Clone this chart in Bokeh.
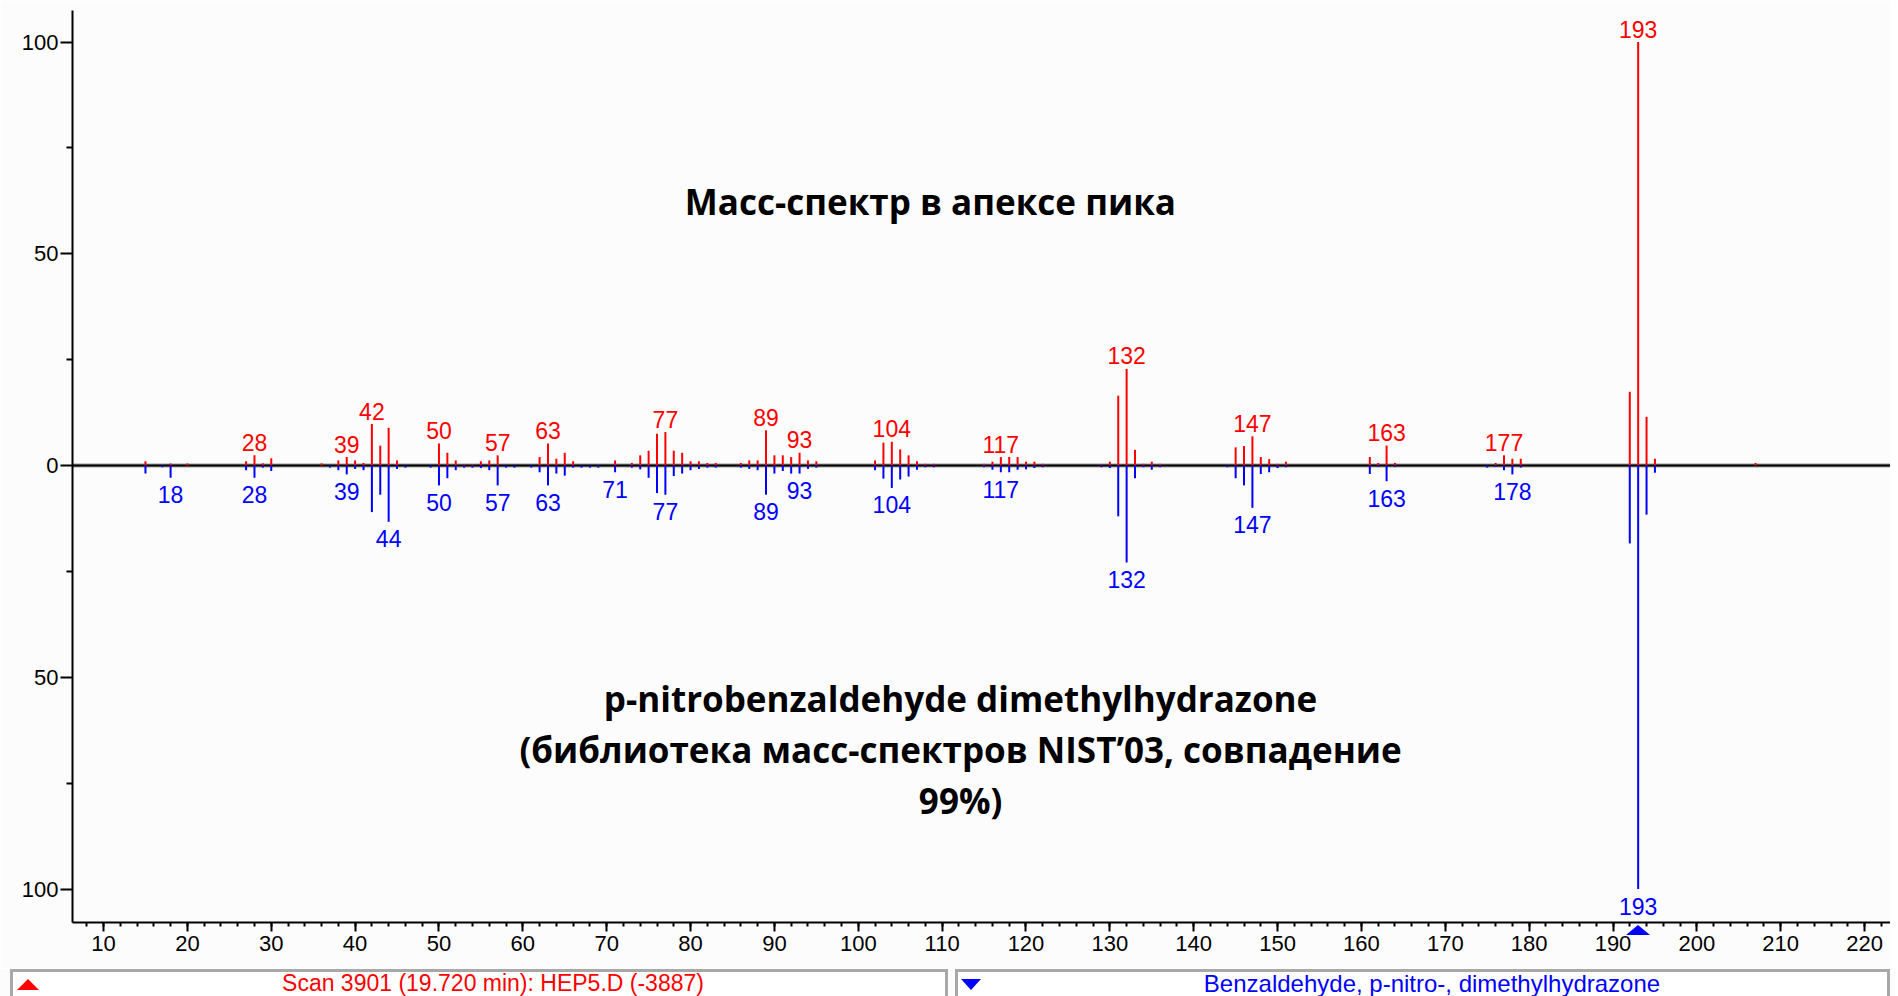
from bokeh.plotting import figure
from bokeh.models import Range1d, FixedTicker, Span, Label, Div
from bokeh.layouts import column
from bokeh.embed import file_html
from bokeh.resources import INLINE
from bokeh.core.properties import value

# ---------------- data ----------------
# sample spectrum (red, upward), relative intensity %
sample_mz = [15, 18, 20, 27, 28, 29, 30, 36, 38, 39, 40, 41, 42, 43, 44, 45,
             50, 51, 52, 53, 54, 55, 56, 57, 62, 63, 64, 65, 66, 71, 73, 74,
             75, 76, 77, 78, 79, 80, 81, 82, 83, 86, 87, 88, 89, 90, 91, 92,
             93, 94, 95, 102, 103, 104, 105, 106, 107, 108, 109, 115, 116, 117,
             118, 119, 120, 121, 122, 129, 130, 131, 132, 133, 134, 135, 136,
             145, 146, 147, 148, 149, 150, 151, 161, 162, 163, 164, 176, 177,
             178, 179, 192, 193, 194, 195, 207]
sample_int = [1.0, 0.5, 0.5, 1.0, 2.4, 0.5, 1.7, 0.5, 1.2, 2.0, 1.2, 0.6, 9.8, 4.7, 8.9, 1.2,
              5.2, 3.0, 1.2, 0.3, 0.3, 1.0, 1.2, 2.4, 2.0, 5.2, 1.6, 3.0, 1.0, 1.2, 0.6, 2.4,
              3.5, 7.5, 7.9, 3.5, 3.0, 1.0, 1.0, 0.6, 0.6, 0.6, 1.2, 1.2, 8.3, 2.4, 2.4, 2.0,
              3.0, 1.2, 1.0, 1.2, 5.4, 5.6, 3.8, 2.4, 1.0, 0.4, 0.4, 0.4, 0.9, 2.0,
              2.0, 2.0, 0.9, 0.9, 0.4, 0.2, 0.9, 16.5, 22.8, 3.7, 0.4, 0.9, 0.4,
              4.3, 4.6, 6.9, 2.0, 1.5, 0.4, 0.9, 2.0, 0.6, 4.7, 0.6, 0.6, 2.4,
              1.6, 1.6, 17.4, 100.0, 11.5, 1.6, 0.6]

# library spectrum (blue, drawn downward), relative intensity %
library_mz = [15, 17, 18, 27, 28, 29, 30, 37, 38, 39, 40, 41, 42, 43, 44, 45, 46,
              49, 50, 51, 52, 53, 54, 55, 56, 57, 58, 59, 61, 62, 63, 64, 65, 66,
              67, 68, 69, 71, 73, 74, 75, 76, 77, 78, 79, 80, 81, 82, 83, 86, 87,
              88, 89, 90, 91, 92, 93, 94, 95, 102, 103, 104, 105, 106, 107, 108,
              109, 115, 116, 117, 118, 119, 120, 121, 122, 129, 130, 131, 132, 133,
              134, 135, 136, 144, 145, 146, 147, 148, 149, 150, 151, 161, 162, 163,
              164, 175, 176, 177, 178, 179, 192, 193, 194, 195]
library_int = [1.9, 0.4, 2.9, 1.1, 2.9, 0.5, 1.3, 0.5, 1.1, 2.1, 0.8, 1.1, 11.0, 6.9, 13.3, 0.8, 0.5,
               0.5, 4.7, 3.0, 1.1, 0.5, 0.5, 0.6, 1.1, 4.7, 0.5, 0.5, 0.5, 1.6, 4.7, 1.9, 2.4, 0.5,
               0.5, 0.5, 0.5, 1.6, 0.5, 0.9, 2.9, 6.5, 6.9, 2.5, 1.9, 1.1, 0.8, 0.5, 0.5, 0.5, 0.8,
               1.1, 6.9, 1.9, 1.3, 1.9, 1.9, 0.8, 0.5, 1.1, 3.1, 5.3, 3.3, 2.6, 1.0, 0.4,
               0.4, 0.4, 1.0, 1.6, 1.6, 1.0, 0.9, 0.6, 0.4, 0.4, 0.6, 12.0, 22.9, 3.0,
               0.4, 1.0, 0.4, 0.4, 3.0, 4.7, 10.0, 2.0, 1.6, 0.6, 0.4, 2.0, 0.3, 3.7,
               0.3, 0.5, 0.3, 1.1, 2.1, 0.5, 18.4, 100.0, 11.6, 1.7]

sample_labels = [28, 39, 42, 50, 57, 63, 77, 89, 93, 104, 117, 132, 147, 163, 177, 193]
library_labels = [18, 28, 39, 44, 50, 57, 63, 71, 77, 89, 93, 104, 117, 132, 147, 163, 178, 193]

x_ticks = list(range(10, 230, 10))
x_minor_ticks = list(range(8, 224, 2))
y_ticks = [-100, -50, 0, 50, 100]
y_tick_labels = ["100", "50", "0", "50", "100"]
y_minor_ticks = [-75, -25, 25, 75]

title_top = "Масс-спектр в апексе пика"
title_bottom = ["p-nitrobenzaldehyde dimethylhydrazone",
                "(библиотека масс-спектров NIST\u201903, совпадение",
                "99%)"]
status_left = "Scan 3901 (19.720 min): HEP5.D (-3887)"
status_right = "Benzaldehyde, p-nitro-, dimethylhydrazone"

RED = "#ff0000"
BLUE = "#0000ff"
TICK_FONT = "Liberation Sans"
TITLE_FONT = "Open Sans"

# ---------------- main figure ----------------
X_START, X_END = 6.30, 223.09
Y_START, Y_END = -107.91, 107.44
FIG_W, FIG_H = 1890, 968
BORDER_L, BORDER_R, BORDER_T, BORDER_B = 72, 0, 10, 46

p = figure(width=FIG_W, height=FIG_H, x_range=Range1d(X_START, X_END),
           y_range=Range1d(Y_START, Y_END), output_backend="svg",
           toolbar_location=None, min_border_left=BORDER_L, min_border_right=BORDER_R,
           min_border_top=BORDER_T, min_border_bottom=BORDER_B)
p.background_fill_color = "#fcfcfc"
p.border_fill_color = "#fcfcfc"
p.outline_line_color = None
p.xgrid.visible = False
p.ygrid.visible = False

for ax in (p.xaxis[0], p.yaxis[0]):
    ax.axis_line_color = "black"
    ax.axis_line_width = 2
    ax.major_tick_line_color = "black"
    ax.major_tick_line_width = 2
    ax.minor_tick_line_color = "black"
    ax.minor_tick_line_width = 2
    ax.major_tick_in = 0
    ax.minor_tick_in = 0
    ax.major_label_text_font = TICK_FONT
    ax.major_label_text_font_size = "22px"
    ax.major_label_text_color = "black"

p.xaxis.ticker = FixedTicker(ticks=x_ticks, minor_ticks=x_minor_ticks)
p.xaxis.major_tick_out = 9
p.xaxis.minor_tick_out = 4
p.xaxis.major_label_standoff = 4

p.yaxis.ticker = FixedTicker(ticks=y_ticks, minor_ticks=y_minor_ticks)
p.yaxis.major_label_overrides = {t: s for t, s in zip(y_ticks, y_tick_labels)}
p.yaxis.major_tick_out = 12
p.yaxis.minor_tick_out = 6
p.yaxis.major_label_standoff = 2

# zero line
p.add_layout(Span(location=0, dimension="width", line_color="#9a9a9a",
                  line_width=4, level="underlay"))
p.add_layout(Span(location=0, dimension="width", line_color="black",
                  line_width=2, level="underlay"))

# peaks
p.segment(x0=sample_mz, y0=[0] * len(sample_mz), x1=sample_mz, y1=sample_int,
          line_color=RED, line_width=2)
lib_neg = [-v for v in library_int]
p.segment(x0=library_mz, y0=[0] * len(library_mz), x1=library_mz, y1=lib_neg,
          line_color=BLUE, line_width=2)

# peak labels
s_lookup = dict(zip(sample_mz, sample_int))
l_lookup = dict(zip(library_mz, library_int))
p.text(x=sample_labels, y=[s_lookup[m] for m in sample_labels],
       text=[str(m) for m in sample_labels], text_align="center",
       text_baseline="middle", y_offset=-13, text_color=RED,
       text_font=value(TICK_FONT), text_font_size="23px")
p.text(x=library_labels, y=[-l_lookup[m] for m in library_labels],
       text=[str(m) for m in library_labels], text_align="center",
       text_baseline="middle", y_offset=17, text_color=BLUE,
       text_font=value(TICK_FONT), text_font_size="23px")

# annotation texts
p.add_layout(Label(x=108.6, y=62.3, text=title_top, text_font=TITLE_FONT,
                   text_font_style="bold", text_font_size="35px",
                   text_align="center", text_baseline="middle", text_color="black"))
for i, line in enumerate(title_bottom):
    p.add_layout(Label(x=112.2, y=-55.0 - i * 12.05, text=line, text_font=TITLE_FONT,
                       text_font_style="bold", text_font_size="35px",
                       text_align="center", text_baseline="middle",
                       text_color="black"))

# ---------------- status bar strip (with the base-peak pointer) ----------------
base_mz = sample_mz[sample_int.index(max(sample_int))]
frame_w = FIG_W - BORDER_L - BORDER_R
pointer_x = BORDER_L + (base_mz - X_START) * frame_w / (X_END - X_START)

status_html = f"""
<div style="position:relative;left:-5px;top:-4px;width:1895px;height:32px;overflow:visible;">
 <div style="position:absolute;left:0px;top:0px;width:1895px;height:32px;overflow:hidden;background:#fcfcfc;font-family:'Liberation Sans',sans-serif;">
  <div style="position:absolute;left:10px;top:0px;width:932px;height:40px;border:3px solid #a8a8a8;background:#ffffff;box-sizing:content-box;"></div>
  <div style="position:absolute;left:955px;top:0px;width:929px;height:40px;border:3px solid #a8a8a8;background:#ffffff;box-sizing:content-box;"></div>
  <div style="position:absolute;left:17px;top:10px;width:0;height:0;border-left:11px solid transparent;border-right:11px solid transparent;border-bottom:11px solid {RED};"></div>
  <div style="position:absolute;left:961px;top:10px;width:0;height:0;border-left:10px solid transparent;border-right:10px solid transparent;border-top:11px solid {BLUE};"></div>
  <div style="position:absolute;left:0px;top:3px;width:986px;text-align:center;white-space:nowrap;color:{RED};font-size:23px;line-height:23px;">{status_left}</div>
  <div style="position:absolute;left:974px;top:3px;width:916px;text-align:center;white-space:nowrap;color:{BLUE};font-size:24px;line-height:24px;">{status_right}</div>
 </div>
 <div style="position:absolute;left:{pointer_x - 12:.1f}px;top:-44px;width:0;height:0;border-left:12px solid transparent;border-right:12px solid transparent;border-bottom:10px solid {BLUE};"></div>
</div>
"""
status = Div(text=status_html, width=1890, height=28,
             styles={"overflow": "visible"})

layout = column(p, status, spacing=0)
open("out.html", "w").write(file_html(layout, INLINE))
